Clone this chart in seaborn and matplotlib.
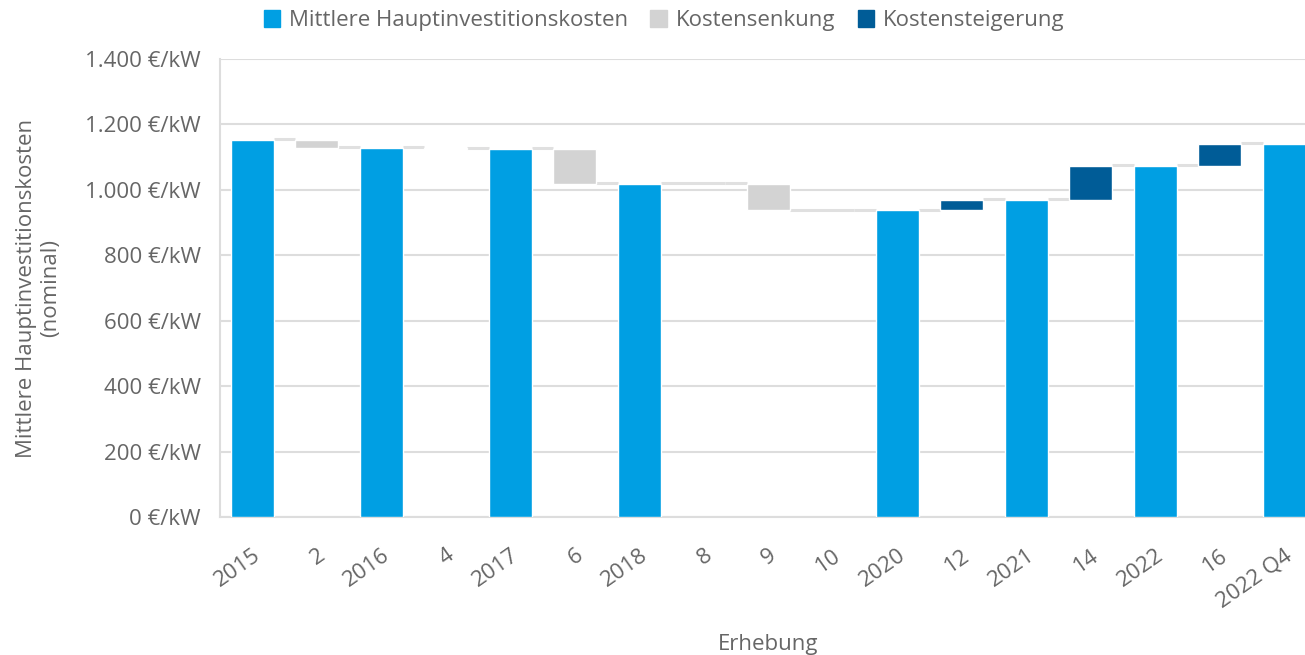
#!/usr/bin/env python3
"""
Waterfall chart: mittlere Hauptinvestitionskosten je Erhebung.
"""

import matplotlib
matplotlib.use('Agg')
import matplotlib.pyplot as plt
import seaborn as sns
import pandas as pd
import numpy as np
from matplotlib.patches import Patch
from matplotlib.ticker import FuncFormatter

# Data
categories = ['2015', '2', '2016', '4', '2017', '6', '2018', '8', '9', '10',
              '2020', '12', '2021', '14', '2022', '16', '2022 Q4']
kinds = ['total', 'delta', 'total', 'delta', 'total', 'delta', 'total', 'delta',
         'delta', 'delta', 'total', 'delta', 'total', 'delta', 'total', 'delta', 'total']
values = [1153, -25, 1128, -3, 1125, -106, 1019, 0, -82, 0,
          937, 32, 969, 104, 1073, 68, 1141]
y_ticks = [0, 200, 400, 600, 800, 1000, 1200, 1400]

C_TOTAL = '#009FE3'
C_DOWN = '#D3D3D3'
C_UP = '#005C97'
C_TEXT = '#666666'
C_GRID = '#DDDDDD'
FS = 16

sns.set_theme(style='white')
plt.rcParams['font.family'] = ['Open Sans', 'DejaVu Sans']

# running totals
levels = []
run = 0
for k, v in zip(kinds, values):
    run = v if k == 'total' else run + v
    levels.append(run)

df = pd.DataFrame({
    'Erhebung': categories,
    'Kosten': [v if k == 'total' else np.nan for k, v in zip(kinds, values)],
})

W = 0.667
fig = plt.figure(figsize=(13.05, 6.55), dpi=100)
ax = fig.add_axes([220 / 1305, 1 - 517 / 655, 1096.5 / 1305, 458 / 655])

# connector lines
for i in range(len(categories) - 1):
    x0 = i + W / 2
    x1 = i + 1 - W / 2
    if kinds[i + 1] == 'delta' and values[i + 1] == 0:
        x1 = i + 1 + W / 2
    ax.plot([x0, x1], [levels[i] + 2, levels[i] + 2], color='#E0E0E0', lw=2.2,
            zorder=1, solid_capstyle='butt')

# totals via seaborn
sns.barplot(data=df, x='Erhebung', y='Kosten', order=categories, color=C_TOTAL,
            width=W, saturation=1, ax=ax, zorder=3)

# floating delta bars
for i, (k, v) in enumerate(zip(kinds, values)):
    if k != 'delta' or v == 0:
        continue
    bottom = levels[i - 1] if v > 0 else levels[i]
    ax.bar(i, abs(v), bottom=bottom, width=W,
           color=C_UP if v > 0 else C_DOWN, zorder=3)

ax.set_xlim(-0.5, len(categories) - 0.5)
ax.set_ylim(0, 1400)
ax.set_yticks(y_ticks)
ax.yaxis.set_major_formatter(FuncFormatter(
    lambda v, p: f'{v:,.0f} €/kW'.replace(',', '.')))
ax.grid(axis='y', color=C_GRID, lw=1.5, zorder=0)
ax.set_axisbelow(True)
for s in ['top', 'right']:
    ax.spines[s].set_visible(False)
for s in ['left', 'bottom']:
    ax.spines[s].set_color(C_GRID)
    ax.spines[s].set_linewidth(1.5)

ax.tick_params(axis='y', length=0, pad=14, labelsize=FS, labelcolor=C_TEXT)
ax.tick_params(axis='x', length=0, pad=20, labelsize=FS, labelcolor=C_TEXT)
ax.set_xticks(range(len(categories)))
ax.set_xticklabels(categories, rotation=35, ha='right', va='top',
                   rotation_mode='anchor')

ax.set_xlabel('Erhebung', fontsize=FS, color=C_TEXT)
ax.set_ylabel('Mittlere Hauptinvestitionskosten\n(nominal)', fontsize=FS,
              color=C_TEXT, labelpad=17)
ax.xaxis.set_label_coords((768 - 220) / 1096.5, -0.255)

handles = [Patch(color=C_TOTAL, label='Mittlere Hauptinvestitionskosten'),
           Patch(color=C_DOWN, label='Kostensenkung'),
           Patch(color=C_UP, label='Kostensteigerung')]
leg = fig.legend(handles=handles, loc='upper center', bbox_to_anchor=(0.509, 1.015),
                 ncol=3, frameon=False, fontsize=FS, handlelength=0.75,
                 handleheight=0.75, handletextpad=0.4, columnspacing=1.0)
for t in leg.get_texts():
    t.set_color(C_TEXT)

fig.savefig('out.png', dpi=100)
